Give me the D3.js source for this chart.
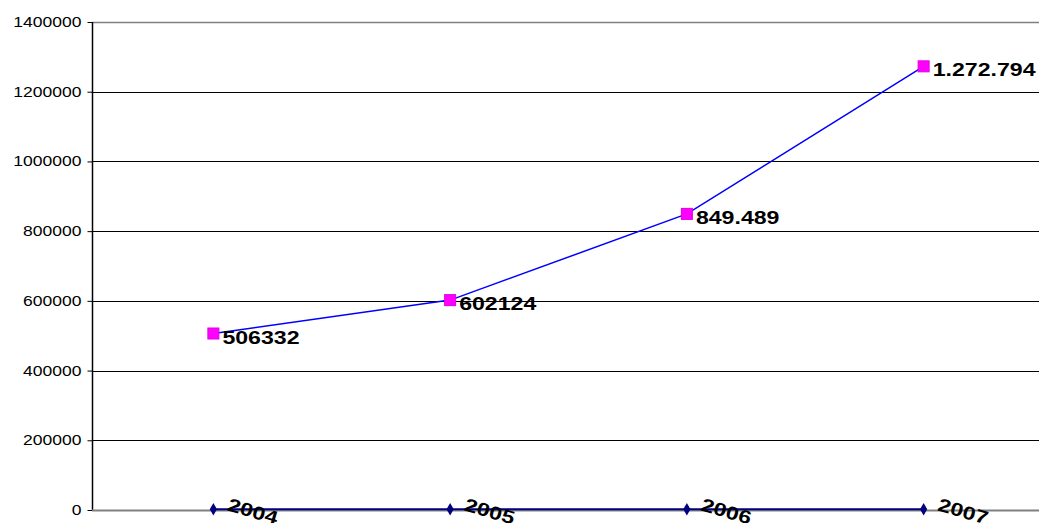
<!DOCTYPE html>
<html>
<head>
<style>
body { margin: 0; background: #fff; }
svg { font-family: Arial, "Liberation Sans", sans-serif; }
</style>
</head>
<body>
<svg class="chart"></svg>
<script src="https://d3js.org/d3.v7.min.js"></script>
<script>
var years = ["2004", "2005", "2006", "2007"]
var totals = [506332, 602124, 849489, 1272794]
var totalLabels = ["506332", "602124", "849.489", "1.272.794"]
var yearValues = [2004, 2005, 2006, 2007]
var yTicks = [0, 200000, 400000, 600000, 800000, 1000000, 1200000, 1400000]

var width = 1039, height = 523
var plotLeft = 92, plotTop = 22, plotBottom = 510, plotRight = 1042

var svg = d3.select(".chart").attr("width", width).attr("height", height)

var x = d3.scaleBand().domain(years).range([plotLeft + 3, plotRight])
var y = d3.scaleLinear().domain([0, 1400000]).range([plotBottom, plotTop])
var cx = function(d) { return x(d) + x.bandwidth() / 2 }

// the original renders text a bit wider than normal
function stretch(sel) {
    sel.each(function() {
        var len = this.getComputedTextLength()
        d3.select(this).attr("textLength", len * 1.25).attr("lengthAdjust", "spacingAndGlyphs")
    })
}

// gridlines
svg.append("g").selectAll("line")
    .data(yTicks.filter(function(d) { return d > 0 }))
    .enter().append("line")
    .attr("x1", plotLeft).attr("x2", width)
    .attr("y1", function(d) { return Math.round(y(d)) + 0.5 })
    .attr("y2", function(d) { return Math.round(y(d)) + 0.5 })
    .attr("stroke", function(d) { return d == 1400000 ? "#808080" : "#000" })
    .attr("stroke-width", function(d) { return d == 1400000 ? 1.5 : 1 })

// y axis
var yAxis = svg.append("g")
    .attr("transform", "translate(" + (plotLeft + 0.5) + ",0)")
    .call(d3.axisLeft(y).tickValues(yTicks).tickSize(5).tickPadding(6).tickFormat(d3.format("d")))
yAxis.select(".domain").attr("stroke", "#000").attr("stroke-width", 1.5)
    .attr("d", "M0," + plotTop + "V" + plotBottom)
yAxis.selectAll("text").attr("font-size", 14).attr("fill", "#000")
    .attr("font-family", "Arial, 'Liberation Sans', sans-serif")
    .call(stretch)

// x axis baseline
svg.append("line")
    .attr("x1", plotLeft).attr("x2", width)
    .attr("y1", plotBottom + 0.5).attr("y2", plotBottom + 0.5)
    .attr("stroke", "#808080").attr("stroke-width", 2)

// year series (near zero)
var line = d3.line().x(function(d) { return cx(d[0]) }).y(function(d) { return y(d[1]) })
svg.append("path")
    .datum(years.map(function(d, i) { return [d, yearValues[i]] }))
    .attr("d", line)
    .attr("fill", "none").attr("stroke", "#000080").attr("stroke-width", 2)

svg.append("g").selectAll("path")
    .data(years)
    .enter().append("path")
    .attr("d", d3.symbol(d3.symbolDiamond, 45))
    .attr("transform", function(d, i) { return "translate(" + cx(d) + "," + y(yearValues[i]) + ")" })
    .attr("fill", "#000080")

svg.append("g").selectAll("text")
    .data(years)
    .enter().append("text")
    .attr("transform", function(d, i) {
        return "translate(" + (cx(d) + 13) + "," + (y(yearValues[i]) + 1) + ") rotate(16)"
    })
    .attr("font-size", 18.5).attr("font-weight", "bold")
    .text(function(d, i) { return yearValues[i] })
    .call(stretch)

// totals series
svg.append("path")
    .datum(years.map(function(d, i) { return [d, totals[i]] }))
    .attr("d", line)
    .attr("fill", "none").attr("stroke", "#0000ff").attr("stroke-width", 1.5)

svg.append("g").selectAll("rect")
    .data(years)
    .enter().append("rect")
    .attr("x", function(d) { return cx(d) - 5.5 })
    .attr("y", function(d, i) { return y(totals[i]) - 5.5 })
    .attr("width", 11).attr("height", 11)
    .attr("fill", "#ff00ff").attr("stroke", "#e000e0").attr("stroke-width", 1)

svg.append("g").selectAll("text")
    .data(years)
    .enter().append("text")
    .attr("x", function(d) { return cx(d) + 9 })
    .attr("y", function(d, i) { return y(totals[i]) + 10 })
    .attr("font-size", 18.5).attr("font-weight", "bold")
    .text(function(d, i) { return totalLabels[i] })
    .call(stretch)
</script>
</body>
</html>
